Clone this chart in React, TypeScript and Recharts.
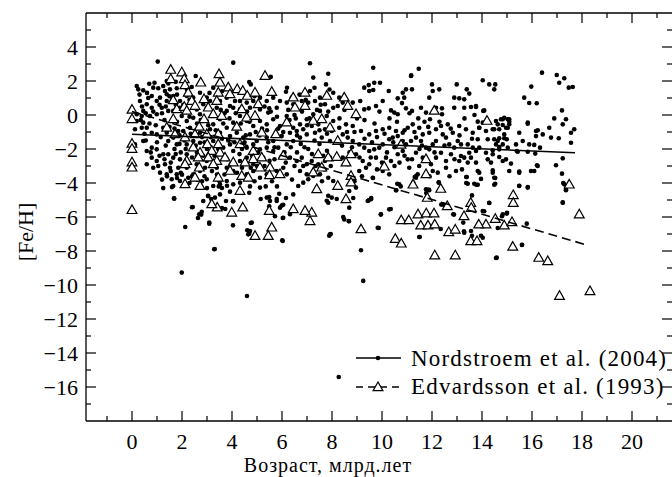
import React from 'react';
import { ScatterChart, Scatter, XAxis, YAxis, ReferenceLine } from 'recharts';

// Nordstroem et al. (2004): [age, Gyr ; [Fe/H]]
const nordstroem: [number, number][] = [
  [1.99,-9.27],[3.29,-7.9],[4.6,-10.65],[6.03,-7.41],[8.27,-15.41],[9.16,-7.96],[9.25,-9.76],[14.59,-8.39],[15.6,-7.65],
  [1.03,3.14],[4.05,3.08],[7.12,3.04],[7.25,2.2],[7.85,2.43],[7.76,1.8],[5.55,2.24],[9.65,2.78],[11.47,2.72],[11.17,2.33],
  [0.19,1.71],[0.25,1.51],[0.45,1.45],[0.69,1.84],[0.85,1.61],[1.05,1.57],[1.25,1.71],[1.39,2.0],[1.32,1.41],[1.52,1.51],[1.79,1.57],
  [2.55,2.29],[2.39,1.65],[2.72,1.31],[3.25,1.61],[3.45,1.8],[2.99,1.02],[3.92,0.53],[4.69,1.94],[4.75,1.8],[5.49,0.39],[6.16,1.37],
  [6.39,1.02],[6.19,0.73],[6.45,0.63],[6.79,0.82],[7.05,0.73],[7.32,0.82],[7.52,1.02],[7.72,0.63],[8.05,0.43],[8.05,1.31],[7.12,1.41],
  [0.32,0.82],[0.59,0.63],[0.79,0.43],[0.99,0.82],[1.19,0.43],[1.39,0.82],[1.45,0.24],[1.65,0.24],[0.99,0.04],[0.72,-0.06],[0.45,0.24],
  [0.39,-0.06],[0.19,0.04],[0.12,-0.84],[0.39,-0.75],[0.12,-1.73],
  [0.79,-1.04],[0.99,-1.14],[1.25,-0.75],[1.39,-1.04],[1.65,-1.33],[1.85,-0.94],[1.45,-1.53],[1.79,-1.73],[0.79,-1.92],[0.99,-2.02],
  [1.25,-2.31],[1.45,-2.31],[1.65,-2.51],[1.92,-2.61],[2.19,-2.31],[1.32,-2.9],[1.52,-3.1],[1.79,-3.49],[1.39,-3.49],[1.59,-3.78],
  [1.92,-3.88],[1.65,-4.18],[2.25,-3.69],[2.45,-3.49],[2.72,-3.29],[2.92,-3.1],[1.68,-4.9],[2.43,-5.41],[2.69,-5.84],[2.79,-5.69],
  [3.09,-6.33],[3.05,-4.77],[3.32,-4.86],[3.52,-4.67],[3.76,-5.06],[4.05,-5.06],[3.92,-4.51],[4.05,-4.08],[4.32,-3.98],[3.79,-3.88],
  [3.52,-4.08],[3.25,-4.18],[2.99,-3.78],[4.69,-4.57],[5.12,-4.27],[5.39,-4.86],[5.52,-5.06],[5.79,-5.06],[5.92,-5.45],[6.05,-6.04],
  [6.32,-5.84],[6.45,-4.67],[6.65,-4.18],[6.85,-3.98],[7.05,-3.78],[7.25,-3.59],[7.52,-3.49],[7.85,-3.69],[8.05,-3.88],[7.99,-4.86],
  [7.85,-5.16],[7.92,-7.02],[4.79,-6.33],[4.72,-6.82],[4.65,-7.02],[2.85,-5.06],
  [4.32,-2.71],[4.59,-2.51],[4.85,-2.9],[5.25,-2.51],[5.65,-2.12],[5.85,-1.92],[6.19,-1.73],[6.45,-1.53],[6.72,-1.33],[6.99,-1.14],
  [7.32,-1.04],[7.59,-1.33],[7.92,-1.53],[6.32,-2.51],[6.59,-2.71],[6.79,-2.51],[6.99,-2.9],[7.19,-2.71],[7.45,-2.9],[7.72,-2.71],
  [7.92,-2.51],[6.72,-3.29],[6.99,-3.49],
  [1.99,-0.06],[2.19,-0.35],[2.45,-0.16],[2.72,0.04],[2.99,-0.35],[3.25,-0.55],[3.52,-0.25],[3.79,-0.75],[4.05,-0.45],[4.32,-0.06],
  [4.59,-0.35],[4.85,-0.65],[5.12,-0.35],[5.39,-0.55],[5.65,-0.25],[5.92,-0.65],[6.19,-0.06],[6.45,-0.75],[6.72,-0.55],[6.99,-0.25],
  [7.25,0.04],[7.52,0.24],[7.79,-0.06],[8.05,-0.35],[2.05,-0.94],[2.32,-0.75],[2.72,-1.04],[3.12,-0.84],[3.52,-1.04],[3.92,-1.24],
  [4.19,-1.04],[4.45,-1.33],[4.72,-1.14],[4.99,-1.53],[5.39,-1.33],[5.65,-1.53],[5.99,-1.24],[6.32,-1.04],[6.59,-0.94],[6.85,-0.84],
  [7.19,-0.65],[7.45,-0.55],[7.72,-0.84],[7.99,-0.94],
  [2.19,-1.73],[2.45,-1.53],[2.72,-1.63],[3.25,-1.53],[3.65,-1.92],[3.92,-1.73],[4.05,-2.12],[4.59,-1.92],[4.85,-1.73],[5.12,-2.02],
  [5.39,-1.92],[2.19,-3.1],[2.59,-2.9],[2.99,-2.71],[3.39,-3.1],[3.79,-3.1],[4.05,-3.29],[4.59,-3.49],[4.85,-3.29],[5.12,-3.69],
  [5.39,-3.49],[5.79,-3.29],[6.05,-3.1],[6.19,-3.49],
  [0.79,1.12],[1.12,1.02],[1.39,1.22],[1.65,1.12],[1.92,0.82],[2.19,1.12],[2.45,1.02],[2.85,0.63],[3.12,0.82],[3.52,0.82],[3.79,1.02],
  [4.12,0.82],[4.32,0.82],[4.59,0.73],[4.85,0.82],[5.12,1.02],[5.39,0.82],[5.65,1.02],[5.92,0.82],[1.92,0.43],[2.19,0.24],[2.59,0.33],
  [2.99,0.43],[3.39,0.43],[3.79,0.24],[4.05,0.43],[4.32,0.33],[4.72,0.43],[5.12,0.33],[5.45,0.14],[5.79,0.43],
  [0.19,-0.35],[0.45,-0.45],[0.59,-0.75],[0.45,-1.53],[0.59,-2.12],[0.79,-2.51],[0.99,-2.71],[0.59,-2.9],[0.85,-3.1],[1.12,-3.39],
  [9.29,1.61],[9.47,1.76],[9.69,1.9],[9.92,1.9],[9.49,1.41],[9.65,1.47],[10.27,1.41],[11.16,2.29],[10.96,1.51],[11.2,1.51],[10.83,1.31],
  [10.63,0.98],[10.89,1.02],[12.0,1.8],[12.03,1.41],[12.29,1.51],[11.89,1.02],[12.99,1.8],[13.39,1.51],[13.49,1.26],[12.89,1.02],
  [13.09,0.98],[13.29,0.92],[14.03,2.04],[14.29,1.8],[14.53,1.8],[14.49,1.51],[16.4,2.49],[16.99,2.35],[17.09,1.9],[17.29,2.16],
  [17.47,1.61],[17.63,1.65],[15.97,1.67],[15.69,1.02],[15.89,0.71],[16.19,0.69],
  [9.13,0.82],[8.83,0.73],[9.29,0.33],[9.47,0.39],[9.76,0.53],[10.03,0.82],[10.36,0.27],[10.49,0.14],[10.63,0.04],[10.96,0.39],
  [11.2,0.24],[11.56,0.43],[11.76,0.14],[11.92,-0.25],[12.16,0.43],[12.4,0.39],[12.4,0.04],[12.89,0.43],[13.29,0.43],[13.56,0.47],
  [13.76,0.47],[14.05,0.24],[14.83,-0.25],[15.03,-0.25],[14.63,-0.55],[14.96,-0.75],[15.09,-0.39],[15.83,-0.51],[16.89,-0.2],
  [17.23,-0.55],[17.36,-0.25],[17.69,-0.84],[17.56,-1.04],[16.69,-0.75],[16.43,-1.14],[16.76,-1.33],[17.07,-1.37],[16.16,-0.94],
  [15.49,-1.04],[17.56,-1.63],[17.23,-2.55],[16.96,-2.96],[17.2,-3.45],[17.29,-4.08],[17.36,-4.43],[17.23,-5.16],[16.2,-2.96],
  [16.09,-3.29],[15.83,-4.27],[15.49,-4.18],[15.49,-3.39],[15.16,-2.86],[14.96,-2.61],[14.69,-2.47],[16.09,-1.76],[16.32,-1.92],
  [15.83,-2.16],[15.43,-2.16],
  [14.49,-1.43],[14.69,-1.37],[14.23,-1.43],[13.83,-1.43],[14.53,-4.04],[14.49,-3.69],[14.43,-3.39],[13.89,-3.39],[13.69,-4.04],
  [13.43,-4.04],[13.39,-3.65],[13.76,-2.8],[13.83,-3.29],[13.43,-2.8],[13.49,-2.22],[13.56,-2.51],[13.16,-2.41],[13.29,-2.51],
  [12.96,-3.29],[13.09,-2.71],[14.29,-5.16],[14.03,-5.65],[15.0,-5.75],[14.83,-5.84],[15.79,-6.39],[11.76,-4.37],[11.89,-4.43],
  [11.43,-3.49],[11.36,-3.69],[11.25,-3.98],[10.69,-4.08],[10.56,-4.43],[9.96,-5.84],[10.29,-5.55],[9.83,-6.63],[12.27,-3.98],
  [12.43,-5.25],[12.85,-5.84],[13.29,-6.92],[13.56,-6.82],[13.25,-6.33],[9.56,-4.96],[9.43,-5.06],[8.69,-5.45],[8.49,-6.14],
  [8.67,-6.24],[8.96,-4.27],[8.69,-4.47],[11.49,-7.18],[14.03,-7.22],
  [8.43,-1.14],[8.63,-1.33],[8.83,-1.53],[9.09,-1.73],[9.29,-1.92],[9.49,-2.12],[9.69,-2.02],[9.89,-1.92],[10.03,-1.73],[10.29,-1.43],
  [10.43,-1.33],[10.63,-1.24],[10.83,-1.53],[10.96,-1.73],[11.16,-1.53],[11.36,-1.33],[11.56,-1.53],[11.76,-1.92],[11.89,-2.02],
  [12.03,-1.73],[12.16,-1.53],[12.43,-1.14],[12.56,-1.33],[12.69,-1.73],[12.89,-1.92],[13.03,-1.53],[13.16,-1.73],[13.43,-1.73],
  [13.63,-1.92],[13.89,-1.92],[14.16,-2.22],[14.43,-2.31],[14.69,-2.02],[14.83,-1.73],[15.03,-1.92],[15.36,-1.73],[15.63,-1.53],
  [15.89,-1.73],[8.96,-2.31],[9.23,-2.71],[9.49,-2.9],[9.76,-2.51],[10.16,-2.51],[10.36,-2.71],[10.63,-2.31],[10.83,-2.12],
  [11.03,-2.61],[11.36,-2.22],[11.63,-2.51],[11.96,-2.9],[12.16,-2.51],[12.36,-2.22],[12.56,-2.71],[12.76,-2.31],[10.29,-3.49],
  [10.03,-3.29],[9.63,-3.69],[9.36,-3.1],[9.09,-3.29],[8.63,-2.9],[8.43,-2.51],[11.09,-3.1],[11.49,-3.0],[12.03,-3.29],[12.23,-3.39],
  [12.56,-3.1],[8.29,-0.75],[8.56,-0.55],[8.83,-0.65],[9.16,-0.94],[9.49,-1.14],[9.76,-0.94],[10.03,-0.84],[10.29,-0.75],[10.56,-0.94],
  [10.83,-1.04],[11.03,-0.75],[11.23,-0.55],[11.49,-0.75],[11.63,-1.14],[11.89,-1.04],[12.16,-0.84],[12.36,-0.65],[12.63,-0.55],
  [12.83,-1.04],[13.09,-0.65],[13.36,-0.84],[13.63,-1.04],[13.89,-0.75],[14.16,-0.94],[14.43,-0.84],[14.69,-0.84],[14.89,-1.14],
  [15.09,-0.55],
  [17.2,0.27],[16.23,-0.9],[16.16,-1.24],[15.83,-0.45],[13.76,0.53],[14.09,0.27],[13.83,-0.39],[14.03,-0.45],[13.89,-0.75],[14.56,-0.35],
  [14.76,-0.25],[14.89,-0.16],[15.09,-0.25],[15.03,-0.75],[14.83,-0.59],[14.49,-0.84],[14.63,-1.53],[14.56,-1.73],[14.89,-1.37],
  [14.99,-1.43],[14.43,-2.08],[14.69,-1.88],[15.39,-2.12],[16.13,-2.27],[13.76,-2.12],[14.23,-2.61],[14.36,-2.8],[14.83,-2.71],
  [15.49,-3.33],[15.96,-3.29],[16.23,-3.0],[14.43,-3.25],[15.09,-3.29],
  [1.6,-4.24],[1.69,-4.92],[2.4,-5.43],[2.13,-6.59],[2.64,-6.06],[2.77,-5.86],[3.09,-6.39],[4.04,-6.49],[3.31,-7.88],[4.04,-5.08],
  [3.6,-5.47],[3.73,-5.53],[3.04,-4.75],[3.17,-4.94],[3.47,-4.2],[3.6,-4.29],[3.8,-4.16],[1.4,-3.61],[1.8,-3.71],[2.0,-3.51],[2.8,-3.9],
  [2.4,-3.61],[4.72,-4.2],[5.15,-4.94],[5.49,-4.82],[5.79,-4.94],[5.89,-4.63],[6.16,-4.88],[6.05,-5.28],[5.99,-5.33],[5.49,-5.37],
  [5.72,-5.96],[6.03,-6.06],[4.75,-6.35],[4.61,-6.78],[4.69,-6.98],[6.01,-7.37],[7.89,-7.1],[7.95,-7.0],[8.45,-6.0],[8.68,-6.25],
  [8.19,-4.94],[7.79,-5.04],[7.85,-4.75],[8.85,-4.88],[9.64,-3.71],[9.57,-4.88],[9.47,-5.02],[10.35,-5.53],[9.95,-5.86],[9.87,-6.65],
  [11.51,-7.18],[12.35,-6.71],[13.28,-6.84],[13.6,-4.73],[13.6,-7.1],[12.88,-5.86],[12.37,-5.27],[12.53,-5.37],[11.87,-4.39],
  [11.77,-4.59],[10.61,-4.04],[10.75,-4.2],[10.57,-4.43],[11.31,-3.65],[11.37,-3.57],[12.27,-3.96],[13.37,-3.65],[13.37,-4.0],
  [13.77,-4.1],[14.53,-3.71],[14.49,-4.1],[13.96,-3.76],[13.83,-4.1],[15.49,-4.16],[15.83,-4.24],[14.29,-5.18],[14.09,-5.66],
  [14.8,-5.96],[14.99,-5.8],[14.63,-6.65],[13.96,-7.1],[15.6,-7.63],[14.56,-8.41],[17.25,-4.0],[17.36,-4.39],[17.23,-5.14],
  [0.6,1.3],[0.9,1.9],[1.1,0.6],[1.3,-0.3],[1.5,-0.7],[1.7,-2.0],[1.9,-1.2],[0.7,-0.5],[1.0,-1.6],[1.2,-3.8],[1.8,-0.4],[1.6,0.9],
  [0.4,0.5],[0.3,1.2],[1.45,1.85],[1.75,1.95],[1.1,-2.4],[1.35,-1.8],[1.95,-2.2],[1.55,-2.8],[1.85,-3.1],[1.25,-4.3],[0.5,-1.1],
  [2.3,0.9],[2.6,-0.5],[2.8,-1.3],[3.0,-2.0],[3.3,-2.4],[3.6,-1.4],[3.8,-2.6],[2.4,-2.5],[2.9,-3.6],[3.4,-3.5],[3.9,-0.2],[3.1,1.3],
  [3.7,0.1],[2.5,-1.2],[2.1,-1.5],[3.5,-3.9],[2.2,1.5],[3.6,1.4],[4.2,-0.8],[4.5,-1.6],[4.8,-2.4],[5.1,-1.2],[5.4,-0.9],[5.7,-1.9],
  [5.0,-3.0],[4.3,-2.3],[5.5,-2.7],[5.8,-0.1],[4.6,0.2],[5.3,0.5],[4.9,1.1],[5.6,-3.9],[4.4,-3.1],[6.3,-0.3],[6.6,-1.2],[6.9,-1.9],
  [7.2,-2.3],[7.5,-1.7],[7.8,-2.1],[6.1,-2.2],[6.5,-3.0],[7.0,-0.6],[7.4,0.3],[7.7,-3.2],[6.8,0.2],[6.2,1.6],[6.7,1.2],[7.3,1.6],
  [7.9,1.5],[6.4,-3.8],[7.6,-3.9],[8.4,-1.8],[8.9,-1.0],[9.3,-1.4],[9.6,-1.6],[10.1,-1.1],[10.5,-1.9],[10.9,-2.4],[11.3,-1.0],
  [11.7,-0.4],[9.0,-0.2],[9.9,0.2],[10.6,-0.4],[11.1,0.1],[8.7,-2.2],[9.2,-3.6],[10.2,-2.2],[11.5,-2.0],[8.5,0.3],[9.7,-0.5],
  [10.8,0.7],[11.9,-3.6],[8.29,1.02],[8.43,0.73],[8.23,0.53],
  [0.35,-0.3],[0.55,0.1],[0.65,1.0],[0.85,0.2],[0.95,-0.6],[1.15,-1.3],[1.2,0.1],[1.35,0.5],[1.5,1.1],[1.7,-0.8],[1.75,0.6],
  [1.9,-1.7],[1.05,-3.0],[1.3,-2.6],[1.55,-3.3],[1.75,-2.3],[1.95,-3.4],[1.8,1.2],[0.55,-1.5],[0.75,-2.2],
  [2.05,0.6],[2.3,-0.1],[2.35,-1.1],[2.55,-1.8],[2.6,-2.2],[2.75,-0.3],[2.9,-1.6],[3.05,-0.6],[3.15,-1.3],[3.2,-3.3],[3.35,-0.9],
  [3.45,-2.0],[3.55,0.3],[3.7,-3.5],[3.85,-1.5],[3.95,-2.9],[2.3,-4.0],[2.6,-3.8],[3.0,-4.3],[2.15,-2.0],[2.85,-2.4],[3.65,-0.5],
  [4.1,-1.6],[4.15,0.1],[4.35,-0.5],[4.4,-2.0],[4.55,-1.2],[4.7,-0.4],[4.75,-3.1],[4.95,-1.0],[5.05,-2.2],[5.2,-0.8],[5.3,-3.0],
  [5.45,-1.6],[5.55,0.2],[5.7,-2.6],[5.85,-0.8],[5.95,-2.5],[4.2,-3.4],[4.9,-3.9],[5.35,-4.2],[5.8,-4.2],
  [6.05,-1.0],[6.15,-2.8],[6.25,0.3],[6.35,-1.9],[6.55,-0.2],[6.6,-2.2],[6.75,-1.7],[6.85,-3.0],[7.05,-2.0],[7.1,-0.2],[7.3,-1.5],
  [7.35,-3.0],[7.5,-0.9],[7.65,-2.4],[7.8,-1.1],[7.95,-3.0],[6.95,0.9],[7.55,0.6],[6.5,0.0],[7.85,0.2],
  [8.3,-0.2],[8.6,-1.0],[8.8,-1.9],[9.1,-2.5],[9.3,-0.3],[9.55,-2.5],[9.8,-1.3],[10.0,-2.8],[10.3,-0.2],[10.45,-1.6],[10.7,-2.8],
  [10.9,-0.9],[11.2,-2.6],[11.45,-0.2],[11.6,-1.8],[11.85,-0.7],[12.1,-2.2],[12.3,-0.4],[12.5,-1.8],[12.75,-0.8],[12.9,-2.6],
  [13.1,-1.2],[13.3,-0.2],[13.6,-1.4],[13.7,0.0],[13.2,-3.2],[12.7,-3.6],[10.5,-3.0],[9.8,-3.2],[8.9,-3.9],
];

// Edvardsson et al. (1993)
const edvardsson: [number, number][] = [
  [0,0.3],[0,-0.25],[0,-1.7],[0,-2.0],[0,-2.8],[0,-3.1],[0,-5.6],
  [1.55,2.65],[1.55,2.1],[1.99,2.5],[2.09,2.1],[2.12,1.75],[2.25,1.3],[2.75,1.9],[1.65,0.86],[1.79,0.33],[2.09,0.47],[2.39,0.82],
  [2.52,0.53],[2.88,0.92],[3.05,0.43],[3.25,0.04],[3.48,2.39],[3.52,1.9],[3.45,1.31],[3.39,0.82],[3.59,-0.06],[3.85,1.61],[3.92,1.22],
  [4.21,1.51],[4.43,1.41],[4.61,1.12],[4.92,1.31],[4.39,0.33],[4.59,-0.16],[4.92,-0.06],[5.05,0.63],[5.32,2.29],[5.59,1.35],[4.19,-0.7],
  [2.69,-0.7],[2.88,-0.25],[2.19,0.24],[1.65,-0.25],[1.39,-0.75],[1.72,-1.14],[2.12,-1.33],[2.52,-1.14],[2.99,-1.14],[3.45,-1.14],
  [3.01,-1.73],[3.45,-1.73],[2.72,-2.22],[3.19,-2.12],[3.52,-2.22],[2.45,-1.92],[2.19,-2.71],[2.65,-2.51],[3.05,-2.51],[3.39,-2.71],
  [3.72,-2.51],[4.05,-2.8],[4.32,-1.73],[4.52,-2.8],[4.85,-2.12],[5.19,-2.51],[5.52,-3.1],[5.92,-3.49],[5.19,-1.04],[5.75,-1.14],
  [6.05,-2.41],[6.19,-0.45],[6.45,1.02],[6.52,0.43],[6.92,1.31],[6.92,0.53],[7.25,-0.35],[7.59,-0.25],[7.79,1.12],[7.92,-0.75],
  [2.12,-2.9],[2.69,-3.1],[3.25,-2.9],[3.92,-3.29],[4.39,-3.59],[4.65,-3.69],[5.12,-3.1],[5.5,-3.55],[2.52,-3.69],[2.72,-4.18],
  [2.12,-4.08],[3.45,-3.69],[4.32,-4.47],[7.25,-3.39],[7.59,-3.1],[7.39,-4.37],[7.19,-5.75],[6.92,-5.65],[6.45,-5.55],[7.12,-6.25],
  [5.59,-6.63],[5.45,-7.12],[4.92,-7.12],[5.49,-5.65],[3.99,-5.75],[4.43,-5.45],[3.41,-5.45],[3.19,-5.26],[7.85,-2.51],[8.19,-2.47],
  [7.45,-2.31],[4.85,-2.61],
  [8.49,1.02],[8.63,0.53],[8.96,0.04],[8.23,-1.53],[8.76,-2.31],[8.56,-2.8],[8.76,-3.59],[8.76,-3.98],[8.23,-4.18],[8.56,-4.96],
  [9.16,-6.73],[10.53,-7.3],[10.77,-7.57],[10.77,-6.2],[11.07,-6.2],[11.44,-5.86],[11.77,-5.8],[12.08,-5.8],[11.55,-6.51],[11.84,-6.51],
  [12.11,-6.45],[12.67,-6.9],[12.93,-6.75],[12.11,-8.27],[12.93,-8.27],[11.24,-4.1],[12.35,-4.35],[11.81,-4.88],[12.61,-5.37],
  [13.28,-5.96],[13.55,-5.18],[13.57,-5.47],[13.55,-7.43],[13.8,-7.43],[14.53,-6.12],[14.89,-6.51],[15.2,-6.31],[14.16,-6.45],
  [13.87,-6.45],[15.23,-7.76],[16.27,-8.41],[16.63,-8.61],[17.1,-10.65],[18.32,-10.37],[17.49,-4.1],[15.25,-4.72],[15.25,-5.18],
  [17.89,-5.86],[14.2,-0.35],[12.09,0.24],[10.09,-3.04],[10.76,-1.76],[11.76,-2.61],[11.76,-3.49],
];

// linear fits
const nordFit = [{ x: 0, y: -1.13 }, { x: 17.72, y: -2.22 }];
const edvFit = [{ x: 0, y: 0.2 }, { x: 18.2, y: -7.65 }];

const xTicks = [-1,0,1,2,3,4,5,6,7,8,9,10,11,12,13,14,15,16,17,18,19,20,21];
const yTicks = [5,4,3,2,1,0,-1,-2,-3,-4,-5,-6,-7,-8,-9,-10,-11,-12,-13,-14,-15,-16,-17];

const FONT = "'Liberation Serif', 'Times New Roman', serif";
const PLOT_TOP = 13;
const PLOT_RIGHT = 672;

const fmt = (v: number) => (v < 0 ? '\u2212' + Math.abs(v) : String(v));

const XTick = (props: any) => {
  const { x, y, payload } = props;
  const v = payload.value;
  const major = v % 2 === 0;
  const len = major ? 10 : 5;
  return (
    <g>
      <line x1={x} y1={y} x2={x} y2={y - len} stroke="#000" strokeWidth={1.2} />
      <line x1={x} y1={PLOT_TOP} x2={x} y2={PLOT_TOP + len} stroke="#000" strokeWidth={1.2} />
      {major && v >= 0 && (
        <text x={x} y={y + 28} textAnchor="middle" fontFamily={FONT} fontSize={22} fill="#000">
          {v}
        </text>
      )}
    </g>
  );
};

const YTick = (props: any) => {
  const { x, y, payload } = props;
  const v = payload.value;
  const major = v % 2 === 0;
  const len = major ? 10 : 5;
  return (
    <g>
      <line x1={x} y1={y} x2={x + len} y2={y} stroke="#000" strokeWidth={1.2} />
      <line x1={PLOT_RIGHT} y1={y} x2={PLOT_RIGHT - len} y2={y} stroke="#000" strokeWidth={1.2} />
      {major && (
        <text x={x - 8} y={y + 7.5} textAnchor="end" fontFamily={FONT} fontSize={22} fill="#000">
          {fmt(v)}
        </text>
      )}
    </g>
  );
};

const Dot = (p: any) => <circle cx={p.cx} cy={p.cy} r={2.3} fill="#000" />;

const Tri = (p: any) => {
  const { cx, cy } = p;
  return (
    <polygon
      points={`${cx},${cy - 5.3} ${cx - 4.9},${cy + 3.3} ${cx + 4.9},${cy + 3.3}`}
      fill="#fff"
      stroke="#000"
      strokeWidth={1.2}
    />
  );
};

const Nothing = () => <g />;

const App = () => {
  const nordData = nordstroem.map(([x, y]) => ({ x, y }));
  const edvData = edvardsson.map(([x, y]) => ({ x, y }));

  return (
    <div style={{ position: 'absolute', left: 0, top: 0, width: 672, height: 477, background: '#fff' }}>
      <ScatterChart width={672} height={477} margin={{ top: 13, right: 0, bottom: 55, left: 85 }}>
        <XAxis
          type="number"
          dataKey="x"
          domain={[-1.84, 21.6]}
          ticks={xTicks}
          interval={0}
          tickSize={0}
          tickMargin={0}
          height={1}
          allowDataOverflow
          axisLine={{ stroke: '#000', strokeWidth: 1.3 }}
          tick={(p: any) => <XTick {...p} />}
        />
        <YAxis
          type="number"
          dataKey="y"
          domain={[-18, 6]}
          ticks={yTicks}
          interval={0}
          tickSize={0}
          tickMargin={0}
          width={1}
          allowDataOverflow
          axisLine={{ stroke: '#000', strokeWidth: 1.3 }}
          tick={(p: any) => <YTick {...p} />}
        />
        <ReferenceLine y={6} stroke="#000" strokeWidth={1.3} ifOverflow="visible" />
        <Scatter data={nordData} shape={Dot} isAnimationActive={false} />
        <Scatter data={edvData} shape={Tri} isAnimationActive={false} />
        <Scatter
          data={nordFit}
          line={{ stroke: '#000', strokeWidth: 1.6 }}
          shape={Nothing}
          isAnimationActive={false}
        />
        <Scatter
          data={edvFit}
          line={{ stroke: '#000', strokeWidth: 1.6, strokeDasharray: '9 5' }}
          shape={Nothing}
          isAnimationActive={false}
        />
      </ScatterChart>
      <svg
        width={672}
        height={477}
        style={{ position: 'absolute', left: 0, top: 0, pointerEvents: 'none' }}
      >
        <text
          x={33}
          y={232}
          transform="rotate(-90 33 232)"
          textAnchor="middle"
          fontFamily={FONT}
          fontSize={22}
          fill="#000"
        >
          [Fe/H]
        </text>
        <text x={328} y={472} textAnchor="middle" fontFamily={FONT} fontSize={20} letterSpacing={1} fill="#000">
          Возраст, млрд.лет
        </text>
        <line x1={356} y1={358} x2={401} y2={358} stroke="#000" strokeWidth={1.4} />
        <circle cx={378} cy={358} r={2.3} fill="#000" />
        <text x={411} y={366} fontFamily={FONT} fontSize={23} letterSpacing={1.2} fill="#000">
          Nordstroem et al. (2004)
        </text>
        <line x1={356} y1={387} x2={401} y2={387} stroke="#000" strokeWidth={1.4} strokeDasharray="7 5" />
        <polygon points="378,382 373.1,390.6 382.9,390.6" fill="#fff" stroke="#000" strokeWidth={1.2} />
        <text x={411} y={394} fontFamily={FONT} fontSize={23} letterSpacing={1.2} fill="#000">
          Edvardsson et al. (1993)
        </text>
      </svg>
    </div>
  );
};

export default App;
